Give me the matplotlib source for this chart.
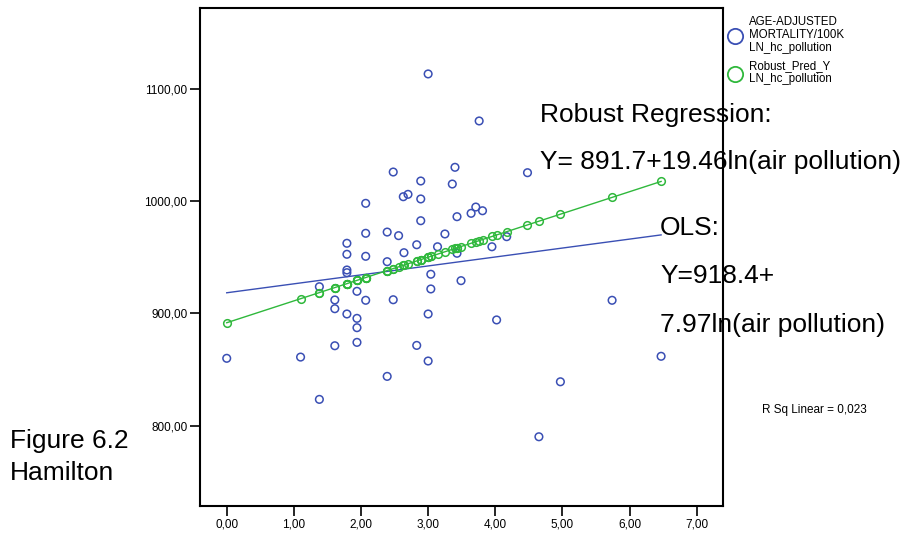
import matplotlib
matplotlib.use("Agg")
import matplotlib.pyplot as plt
import numpy as np

plt.rcParams['font.family'] = ['Liberation Sans', 'DejaVu Sans']

# ln(HC pollution) and age-adjusted mortality
ln_hc = [3.00, 3.76, 2.48, 3.40, 4.48, 2.89, 3.36, 2.63, 2.70, 2.89,
         2.07, 3.71, 3.64, 3.81, 3.43, 2.89, 2.07, 2.39, 2.56, 3.25,
         4.17, 1.79, 2.83, 3.14, 3.95, 1.79, 2.07, 2.64, 3.43, 2.39,
         1.79, 1.79, 3.04, 3.49, 1.38, 3.04, 1.94, 1.61, 2.07, 2.48,
         5.74, 1.61, 1.79, 3.00, 1.94, 4.02, 1.94, 1.61, 1.94, 2.83,
         0.00, 1.10, 3.00, 6.47, 2.39, 1.38, 4.97, 4.65]
mortality = [1113.4, 1071.5, 1026.0, 1030.2, 1025.4, 1018.0, 1015.3, 1004.0, 1006.1, 1002.0,
             998.1, 994.8, 989.2, 991.5, 986.2, 982.6, 971.4, 972.5, 969.3, 970.8,
             968.4, 962.5, 961.2, 959.4, 959.4, 952.7, 950.9, 954.1, 953.6, 946.1,
             938.7, 936.3, 934.9, 929.2, 923.8, 921.8, 919.7, 912.0, 911.7, 912.2,
             911.7, 904.2, 899.5, 899.5, 895.6, 894.2, 887.3, 871.2, 874.2, 871.5,
             860.0, 861.1, 857.6, 861.8, 843.9, 823.4, 839.1, 790.1]

# coefficients printed on the chart
robust_a, robust_b = 891.7, 19.46
ols_a, ols_b = 918.4, 7.97

x_ticks = [0, 1, 2, 3, 4, 5, 6, 7]
y_ticks = [800, 900, 1000, 1100]

blue = '#3a4fb4'
green = '#2fb83c'

fig = plt.figure(figsize=(9.06, 5.39), dpi=100)
ax = fig.add_axes([200/906, 1-506/539, 523/906, 498.5/539])

x = np.array(ln_hc)
y = np.array(mortality)

ax.scatter(x, y, s=30, facecolors='none', edgecolors=blue, linewidths=1.1, zorder=3)

# OLS fit line
xs = np.array([x.min(), x.max()])
ax.plot(xs, ols_a + ols_b * xs, color=blue, lw=1.0, zorder=2)

# robust predicted values
order = np.argsort(x)
xr = x[order]
ax.plot(xr, robust_a + robust_b * xr, color=green, lw=1.0, zorder=4,
        marker='o', ms=5.5, mfc='none', mec=green, mew=1.1)

ax.set_xlim(-0.398, 7.392)
ax.set_ylim(728.4, 1172.6)
ax.set_xticks(x_ticks)
ax.set_xticklabels([('%.2f' % v).replace('.', ',') for v in x_ticks])
ax.set_yticks(y_ticks)
ax.set_yticklabels([('%.2f' % v).replace('.', ',') for v in y_ticks])
ax.tick_params(direction='out', length=7, width=1.2, labelsize=8.5, pad=2)
for sp in ax.spines.values():
    sp.set_linewidth(1.5)

# annotations
big = 19
fig.text(540/906, 1-115/539, 'Robust Regression:', fontsize=big, va='center')
fig.text(540/906, 1-162/539, 'Y= 891.7+19.46ln(air pollution)', fontsize=big, va='center')
fig.text(660/906, 1-228/539, 'OLS:', fontsize=big, va='center')
fig.text(660/906, 1-276/539, 'Y=918.4+', fontsize=big, va='center')
fig.text(660/906, 1-325/539, '7.97ln(air pollution)', fontsize=big, va='center')
fig.text(10/906, 1-441/539, 'Figure 6.2', fontsize=big, va='center')
fig.text(10/906, 1-473/539, 'Hamilton', fontsize=big, va='center')
fig.text(762/906, 1-410/539, 'R Sq Linear = 0,023', fontsize=8.5, va='center')

# legend
fig.add_artist(plt.Line2D([735/906], [1-36/539], marker='o', ms=11, mfc='none',
                          mec=blue, mew=1.3, transform=fig.transFigure))
fig.add_artist(plt.Line2D([735/906], [1-74/539], marker='o', ms=11, mfc='none',
                          mec=green, mew=1.3, transform=fig.transFigure))
fig.text(749/906, 1-35/539, 'AGE-ADJUSTED\nMORTALITY/100K\nLN_hc_pollution',
         fontsize=8.3, va='center', linespacing=1.1)
fig.text(749/906, 1-73/539, 'Robust_Pred_Y\nLN_hc_pollution',
         fontsize=8.3, va='center', linespacing=1.1)

fig.savefig('out.png', dpi=100)
